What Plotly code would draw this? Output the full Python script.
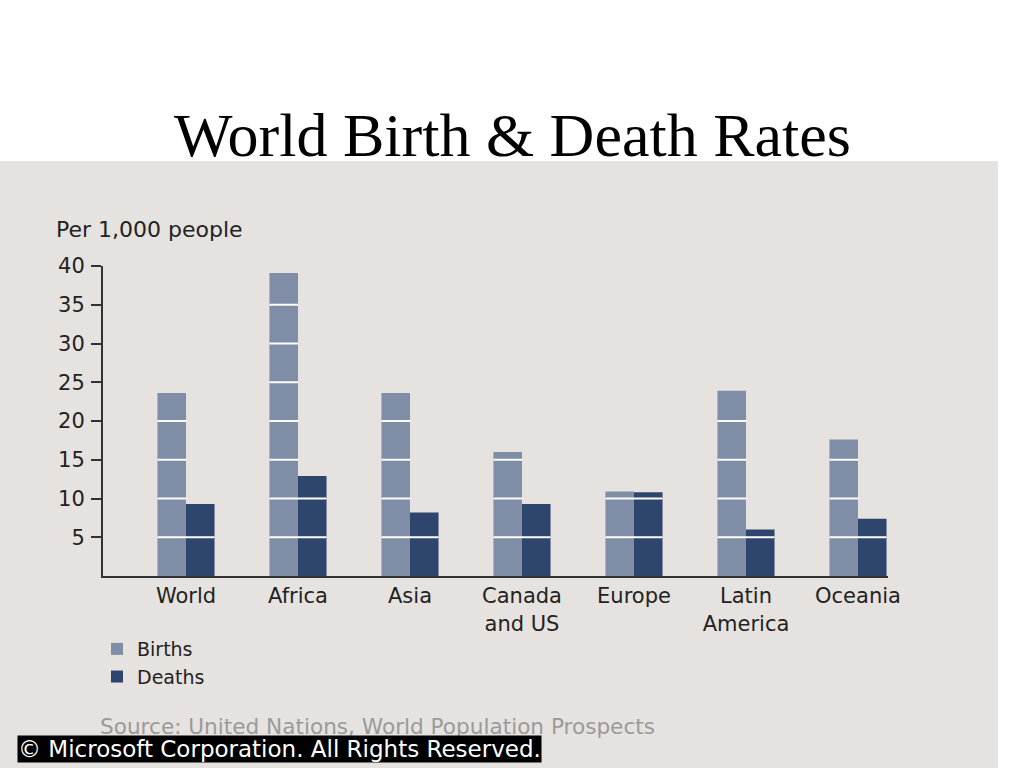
import plotly.graph_objects as go

# ---- data ----
regions = ["World", "Africa", "Asia", "Canada<br>and US", "Europe", "Latin<br>America", "Oceania"]
births = [23.6, 39.1, 23.6, 16.0, 10.9, 23.9, 17.6]
deaths = [9.3, 12.9, 8.2, 9.3, 10.8, 6.0, 7.4]
y_ticks = [5, 10, 15, 20, 25, 30, 35, 40]
title_text = "World Birth & Death Rates"
y_label = "Per 1,000 people"
source_text = "Source: United Nations, World Population Prospects"
copyright_text = "© Microsoft Corporation. All Rights Reserved."

BIRTH_C = "#7f8da7"
DEATH_C = "#2e466e"
PANEL = "#e6e2df"
TXT = "#222222"
FONT = "DejaVu Sans"
FS = 21

W, H = 1024, 768
L, R, T, B = 103, 136, 266, 192  # plot area in px
plot_w = W - L - R
plot_h = H - T - B

def px_x(px):
    return (px - L) / plot_w

def px_y(py):
    return (H - B - py) / plot_h

xs = list(range(len(regions)))
bw = 0.255

fig = go.Figure()
fig.add_trace(go.Bar(x=xs, y=births, name="Births", marker=dict(color=BIRTH_C, line=dict(width=0)),
                     width=bw, offset=-bw))
fig.add_trace(go.Bar(x=xs, y=deaths, name="Deaths", marker=dict(color=DEATH_C, line=dict(width=0)),
                     width=bw, offset=0))

shapes = [dict(type="rect", xref="paper", yref="paper", x0=px_x(0), x1=px_x(998),
               y0=px_y(800), y1=px_y(161), fillcolor=PANEL, line=dict(width=0), layer="below")]
# white gridlines only across the bars
for i in xs:
    for vals, off in ((births, -bw), (deaths, 0)):
        for t in y_ticks:
            if vals[i] > t:
                shapes.append(dict(type="line", xref="x", yref="y", x0=i + off, x1=i + off + bw,
                                   y0=t, y1=t, line=dict(color="white", width=2), layer="above"))

annotations = [
    dict(text=title_text, xref="paper", yref="paper", x=px_x(512), y=px_y(135), xanchor="center",
         yanchor="middle", showarrow=False, font=dict(family="Liberation Serif", size=62, color="black")),
    dict(text=y_label, xref="paper", yref="paper", x=px_x(54), y=px_y(229), xanchor="left",
         yanchor="middle", showarrow=False, font=dict(family=FONT, size=22, color=TXT)),
    dict(text=source_text, xref="paper", yref="paper", x=px_x(98), y=px_y(726), xanchor="left",
         yanchor="middle", showarrow=False, font=dict(family=FONT, size=21.6, color="#9a9a9a")),
    dict(text=copyright_text, xref="paper", yref="paper", x=px_x(17), y=px_y(749), xanchor="left",
         yanchor="middle", showarrow=False, bgcolor="black", borderpad=0,
         font=dict(family=FONT, size=23, color="white")),
]

fig.update_layout(
    width=W, height=H,
    margin=dict(l=L, r=R, t=T, b=B, pad=0),
    paper_bgcolor="white", plot_bgcolor="rgba(0,0,0,0)",
    barmode="overlay",
    showlegend=True,
    legend=dict(x=px_x(97), y=px_y(630), xanchor="left", yanchor="top",
                bgcolor="rgba(0,0,0,0)", font=dict(family=FONT, size=19, color=TXT),
                itemwidth=30, tracegroupgap=0, traceorder="normal"),
    shapes=shapes,
    annotations=annotations,
    xaxis=dict(range=[-0.741, 6.268], tickmode="array", tickvals=xs, ticktext=regions,
               showgrid=False, zeroline=False, showline=True, linecolor="#333333", linewidth=2,
               ticks="", tickfont=dict(family=FONT, size=FS, color=TXT), fixedrange=True),
    yaxis=dict(range=[0, 40], tickmode="array", tickvals=y_ticks, ticktext=[str(v) for v in y_ticks],
               showgrid=False, zeroline=False, showline=True, linecolor="#333333", linewidth=2,
               ticks="outside", ticklen=10, tickwidth=2, tickcolor="#333333",
               ticklabelstandoff=2,
               tickfont=dict(family=FONT, size=FS, color=TXT), fixedrange=True),
)

fig.write_html("out.html", config={"displayModeBar": False},
               post_script="document.body.style.margin='0';document.body.style.padding='0';")
